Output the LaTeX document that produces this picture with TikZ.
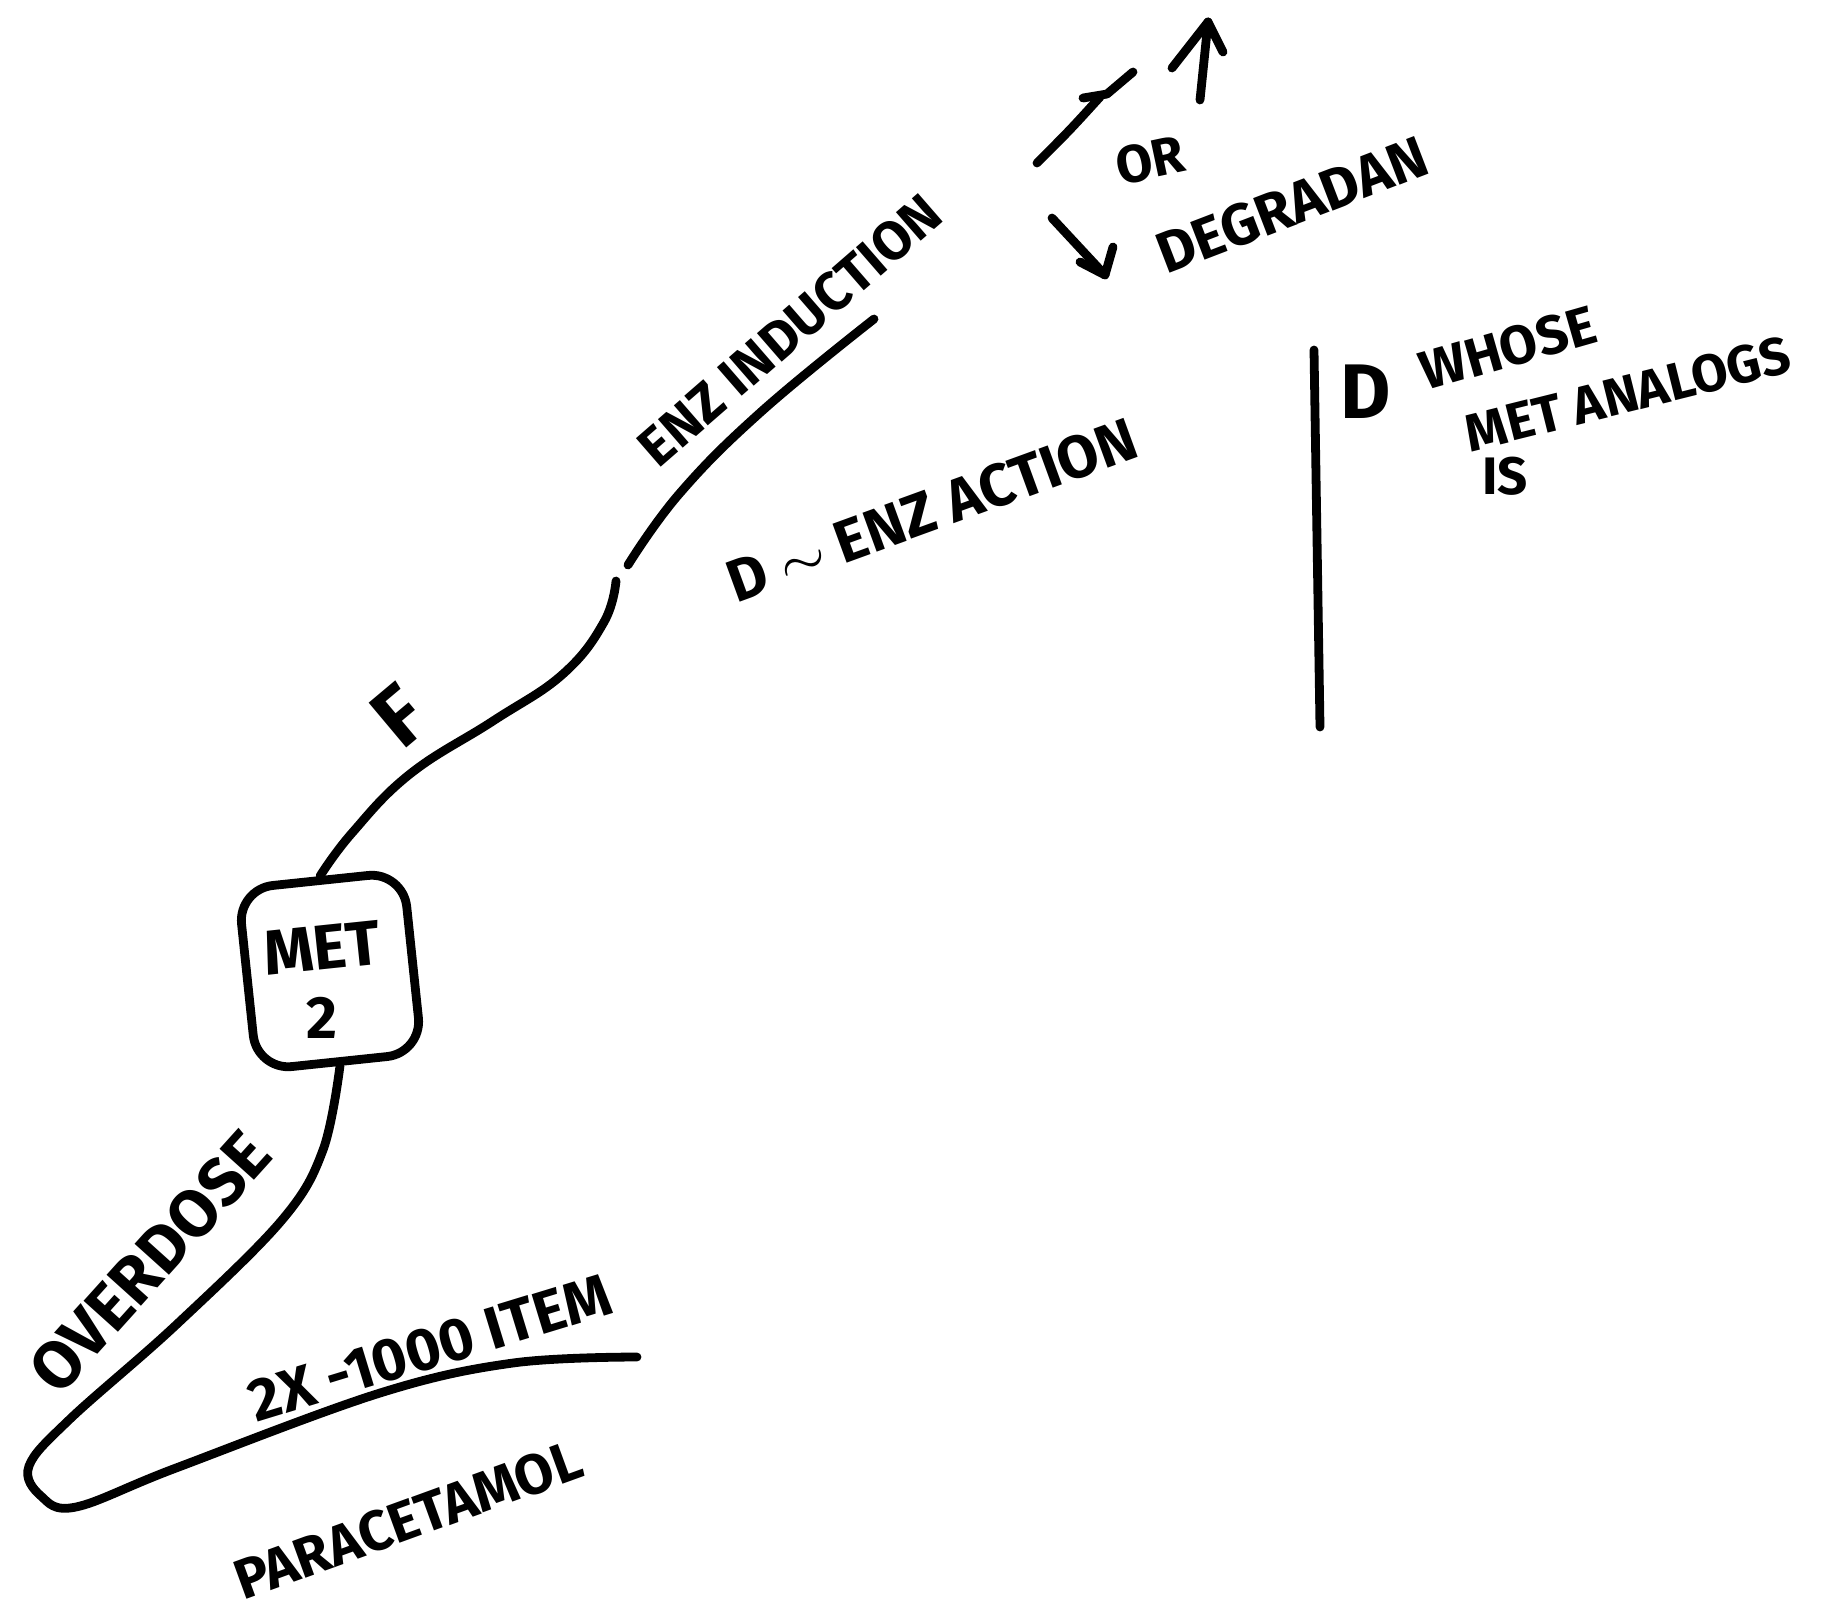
\documentclass[tikz,border=0pt]{standalone}
\usepackage{fontspec}
\setmainfont{Fira Sans}
\begin{document}
\begin{tikzpicture}[x=0.01cm,y=-0.01cm,
  ink/.style={line width=2.5pt,line cap=round,line join=round},
  hw/.style={font=\bfseries, inner sep=0pt},
  boxst/.style={draw,line width=2.5pt,rounded corners=10pt,minimum width=1.66cm,minimum height=1.82cm,rotate=6,inner sep=0pt}]
\useasboundingbox (0,0) rectangle (1839,1615);
\fill[white] (0,0) rectangle (1839,1615);

% box
\node[boxst] (met) at (330,971) {};
\node[hw,font=\bfseries\fontsize{18}{18}\selectfont,rotate=6] (mett) at (322,948) {MET};
\node[hw,font=\bfseries\fontsize{17}{17}\selectfont] (two) at (322,1018) {2};

% top connector with gap
\coordinate (g1) at (616,581);
\coordinate (g2) at (628,565);
\coordinate (tend) at (874,319);
\draw[ink] plot[smooth,tension=0.7] coordinates {(met.north) (352,833) (410,774) (493,721) (563,674) (604,622) (g1)};
\draw[ink] plot[smooth,tension=0.7] coordinates {(g2) (680,493) (762,411) (tend)};

% bottom connector
\coordinate (bend) at (637,1357);
\draw[ink] plot[smooth,tension=0.6] coordinates {(met.south) (323,1150) (282,1220) (176,1325) (70,1419) (29,1466) (41,1496) (76,1507) (176,1468) (380,1393) (513,1363) (bend)};

% right vertical line
\coordinate (v1) at (1314,350);
\coordinate (v2) at (1320,727);
\draw[ink] (v1) -- (v2);

% labels
\node[hw,font=\bfseries\fontsize{15.5}{15.5}\selectfont,rotate=41] (enz) at (790,330) {ENZ INDUCTION};
\node[hw,font=\bfseries\fontsize{24}{24}\selectfont,rotate=40] (f) at (399,716) {F};
\node[hw,font=\bfseries\fontsize{17}{17}\selectfont,rotate=20] (act) at (932,510) {D $\sim$ ENZ ACTION};
\node[hw,font=\bfseries\fontsize{19}{19}\selectfont,rotate=48] (od) at (150,1262) {OVERDOSE};
\node[hw,font=\bfseries\fontsize{17}{17}\selectfont,rotate=17] (item) at (430,1348) {2X -1000 ITEM};
\node[hw,font=\bfseries\fontsize{16}{16}\selectfont,rotate=20] (para) at (408,1520) {PARACETAMOL};
\node[hw,font=\bfseries\fontsize{15}{15}\selectfont,rotate=12] (or) at (1150,160) {OR};
\node[hw,font=\bfseries\fontsize{16.5}{16.5}\selectfont,rotate=21] (deg) at (1292,205) {DEGRADAN};
\node[hw,font=\bfseries\fontsize{22}{22}\selectfont] (d2) at (1366,392) {D};
\node[hw,font=\bfseries\fontsize{15.5}{15.5}\selectfont,rotate=16] (whose) at (1508,348) {WHOSE};
\node[hw,font=\bfseries\fontsize{15}{15}\selectfont,rotate=14] (analog) at (1628,394) {MET ANALOGS};
\node[hw,font=\bfseries\fontsize{15}{15}\selectfont] (is) at (1505,476) {IS};

% top arrows
\draw[ink] (1037,163) .. controls (1070,130) .. (1100,97);
\draw[ink] (1083,98) -- (1107,94) -- (1133,72);
\draw[ink] (1200,100) -- (1208,22);
\draw[ink] (1172,68) -- (1208,22) -- (1223,52);
\draw[ink] (1052,218) -- (1105,275);
\draw[ink] (1080,262) -- (1105,275) -- (1113,247);
\end{tikzpicture}
\end{document}
